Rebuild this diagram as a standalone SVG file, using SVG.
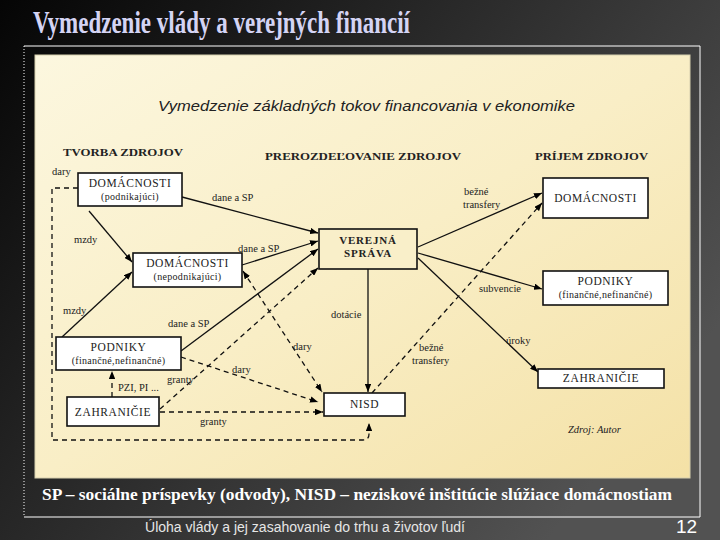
<svg xmlns="http://www.w3.org/2000/svg" width="720" height="540" viewBox="0 0 720 540">
<style>
.node rect{stroke:#111;stroke-width:1.6;fill:#fff}
.node text{fill:#222;text-anchor:middle}
.nt{font-size:11.5px;letter-spacing:0.6px}
.ns{font-size:10px;letter-spacing:0.3px}
.conn line,.conn path{stroke:#111;stroke-width:1.3;fill:none}
.conn .d{stroke-dasharray:5,4}
.lbl{font-size:10.5px;fill:#222}
.hdr{font-size:10.5px;font-weight:bold;fill:#222}
</style>
<defs>
<linearGradient id="bg" x1="0" y1="0" x2="1" y2="0.6">
<stop offset="0" stop-color="#050505"/>
<stop offset="1" stop-color="#525252"/>
</linearGradient>
<linearGradient id="cream" x1="0" y1="0" x2="1" y2="1">
<stop offset="0" stop-color="#fcf7df"/>
<stop offset="0.5" stop-color="#f9eec6"/>
<stop offset="1" stop-color="#f4e1a6"/>
</linearGradient>
<marker id="ah" viewBox="0 0 10 8" refX="10" refY="4" markerWidth="8" markerHeight="6.4" markerUnits="userSpaceOnUse" orient="auto-start-reverse">
<path d="M0,0 L10,4 L0,8 Z" fill="#000"/>
</marker>
</defs>
<rect x="0" y="0" width="720" height="540" fill="url(#bg)"/>
<text x="33" y="33" font-family="Liberation Serif,serif" font-weight="bold" font-size="31" fill="#d4d4f4" textLength="377" lengthAdjust="spacingAndGlyphs">Vymedzenie vlády a verejných financií</text>
<path d="M24,46 L700,46 L700,517 L24,517" fill="none" stroke="#fff" stroke-width="1"/>
<line x1="24" y1="46" x2="24" y2="517" stroke="#fff" stroke-width="1" stroke-dasharray="1,2"/>
<rect x="35" y="55" width="655" height="423" fill="url(#cream)" stroke="#d6cfae" stroke-width="1"/>
<text x="158" y="111" font-family="Liberation Sans,Arial,sans-serif" font-style="italic" font-size="15.5" fill="#222" textLength="417" lengthAdjust="spacingAndGlyphs">Vymedzenie základných tokov financovania v ekonomike</text>
<g font-family="Liberation Serif,DejaVu Serif,serif">
<text class="hdr" x="63" y="156" textLength="120" lengthAdjust="spacingAndGlyphs">TVORBA ZDROJOV</text>
<text class="hdr" x="265" y="160" textLength="196" lengthAdjust="spacingAndGlyphs">PREROZDEĽOVANIE ZDROJOV</text>
<text class="hdr" x="535" y="160" textLength="113" lengthAdjust="spacingAndGlyphs">PRÍJEM ZDROJOV</text>
</g>

<g id="connectors" class="conn">
<line x1="182" y1="197" x2="318" y2="233" marker-end="url(#ah)"/>
<line x1="89" y1="211" x2="132" y2="262" marker-end="url(#ah)"/>
<line x1="242" y1="265" x2="318" y2="241" marker-end="url(#ah)"/>
<line x1="62" y1="337" x2="132" y2="272" marker-end="url(#ah)"/>
<line x1="181" y1="351" x2="318" y2="249" marker-end="url(#ah)"/>
<line x1="368" y1="269" x2="368" y2="392" marker-end="url(#ah)"/>
<line x1="418" y1="247" x2="542" y2="193" marker-end="url(#ah)"/>
<line x1="418" y1="253" x2="542" y2="289" marker-end="url(#ah)"/>
<line x1="418" y1="258" x2="538" y2="372" marker-end="url(#ah)"/>
<line class="d" x1="112" y1="397" x2="112" y2="371" marker-end="url(#ah)"/>
<line class="d" x1="160" y1="409" x2="318" y2="268" marker-end="url(#ah)"/>
<line class="d" x1="160" y1="412" x2="323" y2="412" marker-end="url(#ah)"/>
<line class="d" x1="181" y1="357" x2="318" y2="402" marker-end="url(#ah)"/>
<line class="d" x1="243" y1="271" x2="322" y2="392" marker-start="url(#ah)" marker-end="url(#ah)"/>
<line class="d" x1="372" y1="393" x2="542" y2="203" marker-end="url(#ah)"/>
<path class="d" d="M78,188 L52,188 L52,440 L363,440 Q369,440 369,434 L369,423" marker-end="url(#ah)"/>
</g>

<g id="labels" font-family="Liberation Serif,DejaVu Serif,serif">
<text class="lbl" x="52" y="175" font-size="9.5">dary</text>
<text class="lbl" x="212" y="201">dane a SP</text>
<text class="lbl" x="74" y="243">mzdy</text>
<text class="lbl" x="238" y="252">dane a SP</text>
<text class="lbl" x="63" y="314">mzdy</text>
<text class="lbl" x="168" y="327">dane a SP</text>
<text class="lbl" x="331" y="318">dotácie</text>
<text class="lbl" x="464" y="195">bežné</text>
<text class="lbl" x="463" y="208">transfery</text>
<text class="lbl" x="479" y="292">subvencie</text>
<text class="lbl" x="506" y="344">úroky</text>
<text class="lbl" x="118" y="391">PZI, PI ...</text>
<text class="lbl" x="167" y="383">granty</text>
<text class="lbl" x="200" y="425">granty</text>
<text class="lbl" x="232" y="373">dary</text>
<text class="lbl" x="293" y="350">dary</text>
<text class="lbl" x="419" y="351">bežné</text>
<text class="lbl" x="412" y="364">transfery</text>
<text class="lbl" x="568" y="433" font-style="italic" font-size="9.5">Zdroj: Autor</text>
</g>

<g font-family="Liberation Serif,DejaVu Serif,serif">
<g id="dom-podnikajuci" class="node">
<rect x="78" y="173" width="104" height="33"/>
<text class="nt" x="130" y="187">DOMÁCNOSTI</text>
<text class="ns" x="130" y="200">(podnikajúci)</text>
</g>
<g id="dom-nepodnikajuci" class="node">
<rect x="133" y="253" width="109" height="34"/>
<text class="nt" x="187.5" y="267">DOMÁCNOSTI</text>
<text class="ns" x="187.5" y="280">(nepodnikajúci)</text>
</g>
<g id="verejna-sprava" class="node">
<rect x="319" y="229" width="98" height="40" style="fill:#f9efc9"/>
<text x="368" y="244" font-size="11" font-weight="bold" letter-spacing="0.8">VEREJNÁ</text>
<text x="368" y="257" font-size="11" font-weight="bold" letter-spacing="0.8">SPRÁVA</text>
</g>
<g id="dom-prijem" class="node">
<rect x="543" y="178" width="105" height="40"/>
<text class="nt" x="595.5" y="202">DOMÁCNOSTI</text>
</g>
<g id="podniky-prijem" class="node">
<rect x="543" y="271" width="125" height="34"/>
<text class="nt" x="605.5" y="285" letter-spacing="1.5">PODNIKY</text>
<text class="ns" x="605.5" y="298">(finančné,nefinančné)</text>
</g>
<g id="zahranicie-prijem" class="node">
<rect x="538" y="369" width="126" height="19"/>
<text class="nt" x="601" y="382">ZAHRANIČIE</text>
</g>
<g id="nisd" class="node">
<rect x="324" y="393" width="81" height="23"/>
<text class="nt" x="364.5" y="408" letter-spacing="3">NISD</text>
</g>
<g id="podniky-tvorba" class="node">
<rect x="56" y="337" width="125" height="33"/>
<text class="nt" x="118.5" y="351" letter-spacing="1.5">PODNIKY</text>
<text class="ns" x="118.5" y="364">(finančné,nefinančné)</text>
</g>
<g id="zahranicie-tvorba" class="node">
<rect x="67" y="397" width="92" height="29"/>
<text class="nt" x="113" y="416">ZAHRANIČIE</text>
</g>
</g>

<text x="42" y="500" font-family="Liberation Serif,serif" font-weight="bold" font-size="17" fill="#fff" textLength="630" lengthAdjust="spacingAndGlyphs">SP – sociálne príspevky (odvody), NISD – neziskové inštitúcie  slúžiace domácnostiam</text>
<text x="145" y="532" font-family="Liberation Sans,Arial,sans-serif" font-size="14" fill="#e6e6e6" textLength="320" lengthAdjust="spacingAndGlyphs">Úloha vlády a jej zasahovanie do trhu a životov ľudí</text>
<text x="676" y="533" font-family="Liberation Sans,Arial,sans-serif" font-size="19" fill="#fff">12</text>
</svg>
